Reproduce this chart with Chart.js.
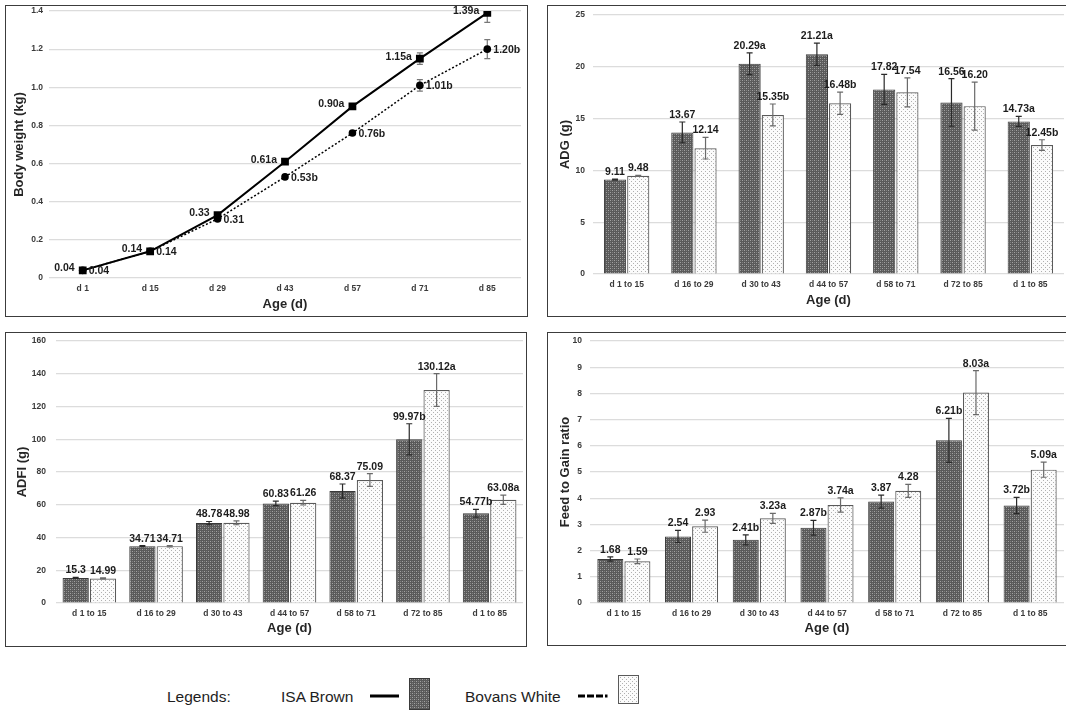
<!DOCTYPE html>
<html>
<head>
<meta charset="utf-8">
<script src="https://cdn.jsdelivr.net/npm/chart.js@4.4.1/dist/chart.umd.min.js"></script>
<style>
body { margin: 0; background: #fff; width: 1066px; height: 710px; overflow: hidden; position: relative; }
.panel { position: absolute; }
.panel canvas { position: absolute; left: 0; top: 0; }
.frame { position: absolute; left: 0; top: 0; right: 0; bottom: 0; border: 1.5px solid #3c3c3c; box-sizing: border-box; pointer-events: none; }
.lg { position: absolute; font-family: 'Liberation Sans', Arial, sans-serif; font-size: 15.5px; color: #1e1e1e; line-height: 20px; white-space: nowrap; }
.sw { position: absolute; }
</style>
</head>
<body>

<div class="panel" style="left:5px;top:5px;width:523px;height:312px">
  <canvas id="bw" width="523" height="312"></canvas><div class="frame"></div>
</div>
<div class="panel" style="left:547px;top:5px;width:530px;height:312px">
  <canvas id="adg" width="530" height="312"></canvas><div class="frame"></div>
</div>
<div class="panel" style="left:5px;top:332px;width:522px;height:315px">
  <canvas id="adfi" width="522" height="315"></canvas><div class="frame"></div>
</div>
<div class="panel" style="left:547px;top:332px;width:530px;height:314px">
  <canvas id="fg" width="530" height="314"></canvas><div class="frame"></div>
</div>

<div class="lg" style="left:167px;top:687px">Legends:</div>
<div class="lg" style="left:281px;top:687px">ISA Brown</div>
<canvas class="sw" id="lgLine1" width="32" height="6" style="left:369px;top:693px"></canvas>
<canvas class="sw" id="lgBox1" width="21" height="32" style="left:409px;top:678px"></canvas>
<div class="lg" style="left:465px;top:687px">Bovans White</div>
<canvas class="sw" id="lgLine2" width="34" height="6" style="left:577px;top:693px"></canvas>
<canvas class="sw" id="lgBox2" width="21" height="29" style="left:618px;top:675px"></canvas>

<script>
// ---- body weight (line chart)
const ages = ['d 1', 'd 15', 'd 29', 'd 43', 'd 57', 'd 71', 'd 85'];
const bwIsa = [0.04, 0.14, 0.33, 0.61, 0.90, 1.15, 1.39];
const bwIsaErr = [0.01, 0.01, 0.01, 0.01, 0.01, 0.03, 0.05];
const bwIsaLab = ['0.04', '0.14', '0.33', '0.61a', '0.90a', '1.15a', '1.39a'];
const bwBov = [0.04, 0.14, 0.31, 0.53, 0.76, 1.01, 1.20];
const bwBovErr = [0.01, 0.01, 0.01, 0.01, 0.01, 0.03, 0.05];
const bwBovLab = ['0.04', '0.14', '0.31', '0.53b', '0.76b', '1.01b', '1.20b'];

// ---- bar charts
const periods = ['d 1 to 15', 'd 16 to 29', 'd 30 to 43', 'd 44 to 57', 'd 58 to 71', 'd 72 to 85', 'd 1 to 85'];

const adgIsa = [9.11, 13.67, 20.29, 21.21, 17.82, 16.56, 14.73];
const adgIsaErr = [0.05, 1.0, 1.05, 1.07, 1.44, 2.3, 0.48];
const adgIsaLab = ['9.11', '13.67', '20.29a', '21.21a', '17.82', '16.56', '14.73a'];
const adgBov = [9.48, 12.14, 15.35, 16.48, 17.54, 16.20, 12.45];
const adgBovErr = [0.05, 1.04, 1.06, 1.07, 1.4, 2.32, 0.51];
const adgBovLab = ['9.48', '12.14', '15.35b', '16.48b', '17.54', '16.20', '12.45b'];

const adfiIsa = [15.3, 34.71, 48.78, 60.83, 68.37, 99.97, 54.77];
const adfiIsaErr = [0.3, 0.3, 1.0, 1.4, 4.3, 9.5, 2.4];
const adfiIsaLab = ['15.3', '34.71', '48.78', '60.83', '68.37', '99.97b', '54.77b'];
const adfiBov = [14.99, 34.71, 48.98, 61.26, 75.09, 130.12, 63.08];
const adfiBovErr = [0.3, 0.4, 1.2, 1.4, 3.9, 10, 2.8];
const adfiBovLab = ['14.99', '34.71', '48.98', '61.26', '75.09', '130.12a', '63.08a'];

const fgIsa = [1.68, 2.54, 2.41, 2.87, 3.87, 6.21, 3.72];
const fgIsaErr = [0.08, 0.23, 0.19, 0.28, 0.25, 0.84, 0.31];
const fgIsaLab = ['1.68', '2.54', '2.41b', '2.87b', '3.87', '6.21b', '3.72b'];
const fgBov = [1.59, 2.93, 3.23, 3.74, 4.28, 8.03, 5.09];
const fgBovErr = [0.09, 0.23, 0.19, 0.27, 0.25, 0.84, 0.29];
const fgBovLab = ['1.59', '2.93', '3.23a', '3.74a', '4.28', '8.03a', '5.09a'];

const FONT = "'Liberation Sans', Arial, sans-serif";

function makePattern(dark) {
    const c = document.createElement('canvas');
    c.width = c.height = 4;
    const ctx = c.getContext('2d');
    if (dark) {
        ctx.fillStyle = '#5a5a5a'; ctx.fillRect(0, 0, 4, 4);
        ctx.fillStyle = '#a2a2a2'; ctx.fillRect(1, 1, 1, 1); ctx.fillRect(3, 3, 1, 1);
        ctx.fillStyle = '#7e7e7e'; ctx.fillRect(1, 3, 1, 1); ctx.fillRect(3, 1, 1, 1);
    } else {
        ctx.fillStyle = '#fbfbfb'; ctx.fillRect(0, 0, 4, 4);
        ctx.fillStyle = '#b0b0b0'; ctx.fillRect(0, 0, 1, 1); ctx.fillRect(2, 2, 1, 1);
    }
    return ctx.createPattern(c, 'repeat');
}
const darkFill = makePattern(true);
const lightFill = makePattern(false);

// error bars + value labels
function drawErrors(chart, o) {
    const ctx = chart.ctx, y = chart.scales.y, a = chart.chartArea;
    ctx.save();
    ctx.beginPath(); ctx.rect(a.left, a.top, a.right - a.left, a.bottom - a.top); ctx.clip();
    chart.data.datasets.forEach((ds, i) => {
        ctx.strokeStyle = o.errColor[i];
        ctx.lineWidth = 1.2;
        chart.getDatasetMeta(i).data.forEach((el, j) => {
            const v = ds.data[j], e = o.errs[i][j];
            const y1 = y.getPixelForValue(v + e), y2 = y.getPixelForValue(v - e);
            ctx.beginPath();
            ctx.moveTo(el.x, y1); ctx.lineTo(el.x, y2);
            ctx.moveTo(el.x - 3, y1); ctx.lineTo(el.x + 3, y1);
            ctx.moveTo(el.x - 3, y2); ctx.lineTo(el.x + 3, y2);
            ctx.stroke();
        });
    });
    ctx.restore();
}

function drawLabels(chart, o) {
    const ctx = chart.ctx, y = chart.scales.y;
    ctx.save();
    ctx.font = 'bold 10.5px ' + FONT;
    ctx.fillStyle = '#1c1c1c';
    chart.data.datasets.forEach((ds, i) => {
        chart.getDatasetMeta(i).data.forEach((el, j) => {
            const txt = o.labels[i][j];
            if (o.line) {
                ctx.textBaseline = 'middle';
                if (i === 0) { ctx.textAlign = 'right'; ctx.fillText(txt, el.x - 8, el.y - 2); }
                else { ctx.textAlign = 'left'; ctx.fillText(txt, el.x + 6, el.y + 1); }
            } else {
                ctx.textBaseline = 'alphabetic';
                ctx.textAlign = 'center';
                ctx.fillText(txt, el.x, y.getPixelForValue(ds.data[j] + o.errs[i][j]) - 4);
            }
        });
    });
    ctx.restore();
}

const errLabels = {
    id: 'errLabels',
    beforeDatasetsDraw(chart, args, o) { if (o.line) drawErrors(chart, o); },
    afterDatasetsDraw(chart, args, o) {
        if (!o.line) drawErrors(chart, o);
        drawLabels(chart, o);
    }
};

function scales(g, max, step) {
    return {
        x: {
            offset: true,
            grid: { display: false, drawTicks: false },
            border: { display: false },
            ticks: { padding: 6, color: '#3a3a3a', font: { family: FONT, size: 8.5, weight: 'bold' }, maxRotation: 0 },
            title: { display: true, text: 'Age (d)', color: '#262626', padding: { top: 0, bottom: g.xtp }, font: { family: FONT, size: 13, weight: 'bold' } },
            afterFit: s => { s.height = g.xh; s.paddingLeft = 0; s.paddingRight = 0; }
        },
        y: {
            min: 0, max: max,
            grid: { color: '#dcdcdc', lineWidth: 1.2, drawTicks: false },
            border: { display: false },
            ticks: { stepSize: step, padding: g.ytk, color: '#3a3a3a', font: { family: FONT, size: 8.5, weight: 'bold' } },
            title: { display: true, text: g.ytitle, color: '#262626', padding: { top: g.ytp, bottom: 0 }, font: { family: FONT, size: 13, weight: 'bold' } },
            afterFit: s => { s.width = g.yw; s.paddingTop = 0; s.paddingBottom = 0; }
        }
    };
}

new Chart(document.getElementById('bw'), {
    type: 'line',
    data: {
        labels: ages,
        datasets: [{
            data: bwIsa, borderColor: '#000', backgroundColor: '#000', borderWidth: 2,
            pointStyle: 'rect', pointRadius: 5.5, pointBorderWidth: 0
        }, {
            data: bwBov, borderColor: '#000', backgroundColor: '#000', borderWidth: 1.5, borderDash: [2, 2],
            pointStyle: 'circle', pointRadius: 3.8, pointBorderWidth: 0
        }]
    },
    options: {
        responsive: false, animation: false, devicePixelRatio: 1,
        layout: { padding: { left: 0, top: 6, right: 7, bottom: 0 } },
        plugins: { legend: { display: false }, tooltip: { enabled: false },
            errLabels: { line: true, errs: [bwIsaErr, bwBovErr], labels: [bwIsaLab, bwBovLab], errColor: ['#777', '#777'] } },
        scales: scales({ xh: 39, xtp: 5, yw: 44, ytk: 6, ytp: 7, ytitle: 'Body weight (kg)' }, 1.4, 0.2)
    },
    plugins: [errLabels]
});

function barChart(id, isa, isaErr, isaLab, bov, bovErr, bovLab, max, step, g, pad) {
    new Chart(document.getElementById(id), {
        type: 'bar',
        data: {
            labels: periods,
            datasets: [{
                data: isa, backgroundColor: darkFill, borderColor: '#3a3a3a', borderWidth: 1,
                categoryPercentage: g.cat, barPercentage: g.bar
            }, {
                data: bov, backgroundColor: lightFill, borderColor: '#5a5a5a', borderWidth: 1.2,
                categoryPercentage: g.cat, barPercentage: g.bar
            }]
        },
        options: {
            responsive: false, animation: false, devicePixelRatio: 1,
            layout: { padding: pad },
            plugins: { legend: { display: false }, tooltip: { enabled: false },
                errLabels: { line: false, errs: [isaErr, bovErr], labels: [isaLab, bovLab], errColor: ['#2a2a2a', '#6a6a6a'] } },
            scales: scales(g, max, step)
        },
        plugins: [errLabels]
    });
}

barChart('adg', adgIsa, adgIsaErr, adgIsaLab, adgBov, adgBovErr, adgBovLab, 25, 5,
    { xh: 43, xtp: 9, yw: 46, ytk: 8, ytp: 11, ytitle: 'ADG (g)', cat: 0.69, bar: 0.955 },
    { left: 0, top: 10, right: 13, bottom: 0 });
barChart('adfi', adfiIsa, adfiIsaErr, adfiIsaLab, adfiBov, adfiBovErr, adfiBovLab, 160, 20,
    { xh: 44, xtp: 11, yw: 51, ytk: 10, ytp: 10, ytitle: 'ADFI (g)', cat: 0.82, bar: 0.96 },
    { left: 0, top: 9, right: 4, bottom: 0 });
barChart('fg', fgIsa, fgIsaErr, fgIsaLab, fgBov, fgBovErr, fgBovLab, 10, 1,
    { xh: 43, xtp: 10, yw: 43, ytk: 8, ytp: 11, ytitle: 'Feed to Gain ratio', cat: 0.8, bar: 0.96 },
    { left: 0, top: 9, right: 13, bottom: 0 });

// legend samples
(function () {
    let c = document.getElementById('lgLine1').getContext('2d');
    c.fillStyle = '#000'; c.fillRect(1, 1.5, 29, 3);
    c = document.getElementById('lgLine2').getContext('2d');
    c.fillStyle = '#000';
    [[1, 7], [10, 7], [19, 7], [28, 2.5]].forEach(([x, w]) => c.fillRect(x, 1.5, w, 3));
    [['lgBox1', darkFill, '#3a3a3a'], ['lgBox2', lightFill, '#5a5a5a']].forEach(([id, fill, stroke]) => {
        const cv = document.getElementById(id), x = cv.getContext('2d');
        x.fillStyle = fill; x.fillRect(0, 0, cv.width, cv.height);
        x.strokeStyle = stroke; x.lineWidth = 1; x.strokeRect(0.5, 0.5, cv.width - 1, cv.height - 1);
    });
})();
</script>
</body>
</html>
